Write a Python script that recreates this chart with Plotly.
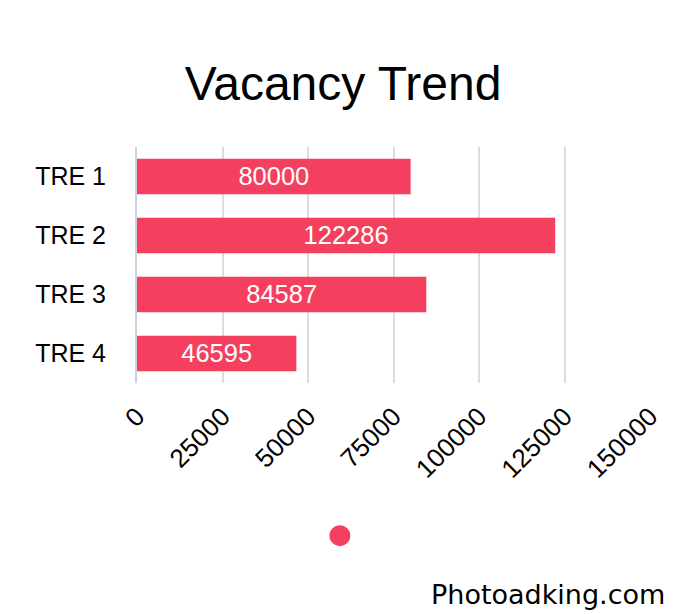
import plotly.graph_objects as go

categories = ["TRE 1", "TRE 2", "TRE 3", "TRE 4"]
values = [80000, 122286, 84587, 46595]
tick_vals = [0, 25000, 50000, 75000, 100000, 125000, 150000]
tick_text = ["0", "25000", "50000", "75000", "100000", "125000", "150000"]

COLOR = "#F43F5E"

fig = go.Figure()
fig.add_trace(go.Bar(
    y=categories, x=values, orientation="h",
    marker=dict(color=COLOR, line=dict(width=0)),
    text=[str(v) for v in values], textposition="inside",
    insidetextanchor="middle",
    textfont=dict(color="white", size=26, family="Liberation Sans, Arial"),
    showlegend=False, hoverinfo="x+y",
))
fig.add_trace(go.Scatter(
    x=[None], y=[None], mode="markers", name="",
    marker=dict(symbol="circle", size=16, color=COLOR, line=dict(color=COLOR, width=5)),
    showlegend=True,
))

fig.update_layout(
    width=688, height=614,
    paper_bgcolor="white", plot_bgcolor="white",
    margin=dict(l=129, r=46, t=139, b=239),
    title=dict(text="Vacancy Trend", x=0.487, xanchor="center", y=0.877, yanchor="middle",
               font=dict(size=48, color="black", family="Liberation Sans, Arial")),
    bargap=0.4,
    font=dict(family="Liberation Sans, Arial", color="black"),
    legend=dict(orientation="h", xref="container", x=0.486, xanchor="center",
                yref="container", y=0.140, yanchor="middle",
                font=dict(size=14), itemwidth=30),
    xaxis=dict(range=[0, 150000], tickvals=tick_vals, ticktext=tick_text,
               tickangle=-45, tickfont=dict(size=26, color="black"),
               showgrid=True, gridcolor="#dddddd", gridwidth=1.5,
               zeroline=False, showline=False, ticks="", ticklabelstandoff=12,
               automargin=False),
    yaxis=dict(autorange="reversed", tickfont=dict(size=25, color="black"),
               showgrid=False, zeroline=False, showline=True,
               linecolor="#c8d2e0", linewidth=2, ticks="", ticklabelstandoff=24,
               automargin=False),
    annotations=[dict(text="Photoadking.com", xref="paper", yref="paper",
                      x=1.033, y=-0.898, xanchor="right", yanchor="middle",
                      showarrow=False,
                      font=dict(size=27, color="black", family="DejaVu Sans"))],
)

fig.write_html("out.html")
